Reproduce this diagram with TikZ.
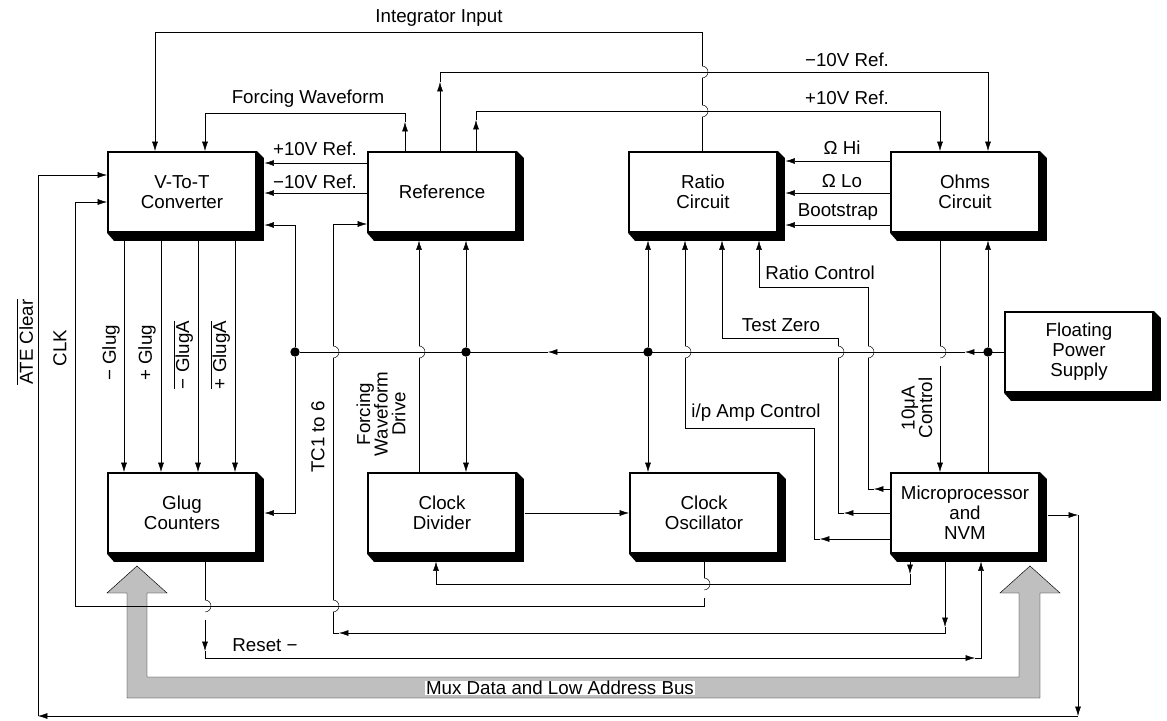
\documentclass[tikz,border=0pt]{standalone}
\usepackage{fontspec}
\setmainfont{Liberation Sans}
\usetikzlibrary{arrows.meta, calc}

\pgfdeclarelayer{shade}
\pgfsetlayers{shade,main}

% small jump of a vertical wire over a horizontal one at (x,y)
\newcommand{\hop}[2]{\draw (#1,#2-6) arc (-90:90:6);}

\begin{document}
\begin{tikzpicture}[x=0.03cm, y=-0.03cm, line width=1.3pt]
  \tikzstyle{blk}=[draw, line width=1.6pt, fill=white, minimum width=4.44cm,
    minimum height=2.4cm, align=center, font=\fontsize{16}{17}\selectfont]
  \tikzstyle{lbl}=[font=\fontsize{16}{17}\selectfont, inner sep=1pt]
  \tikzstyle{sig}=[-{Latex[length=8pt, width=5pt]}]
  \tikzstyle{inshd}=[shorten >=6.5pt]% tip stops on the shadow
  \tikzstyle{outshd}=[shorten <=6.5pt]
  \tikzstyle{dot}=[fill, circle, inner sep=0pt, minimum size=8pt]

  \useasboundingbox (0,0) rectangle (1167,720);

  %% Blocks
  \node[blk] (vtot)  at (182,192) {V-To-T\\Converter};
  \node[blk] (ref)   at (442,192) {Reference};
  \node[blk] (ratio) at (703,192) {Ratio\\Circuit};
  \node[blk] (ohms)  at (965,192) {Ohms\\Circuit};
  \node[blk] (fps)   at (1079,352) {Floating\\Power\\Supply};
  \node[blk] (glug)  at (182,513) {Glug\\Counters};
  \node[blk] (cdiv)  at (442,513) {Clock\\Divider};
  \node[blk] (cosc)  at (704,513) {Clock\\Oscillator};
  \node[blk] (mpu)   at (965,513) {Microprocessor\\and\\NVM};

  % shadows
  \begin{pgfonlayer}{shade}
    \foreach \n in {vtot,ref,ratio,ohms,fps,glug,cdiv,cosc,mpu}
      \fill (\n.south west) -- ++(7,8) -- ([shift={(7,8)}]\n.south east)
        -- ([shift={(7,7)}]\n.north east) -- (\n.north east) -- cycle;
  \end{pgfonlayer}

  %% Mux data / address bus
  \def\buspath{(127,593) -- (107,593) -- (137,566) -- (167,593) -- (147,593)
    -- (147,677) -- (1019,677) -- (1019,593) -- (1000,593) -- (1030,566)
    -- (1060,593) -- (1040,593) -- (1040,698) -- (127,698) -- cycle}
  \fill[black!25] \buspath;
  \node[lbl, fill=white, inner ysep=0pt] (busl) at (560,688)
    {Mux Data and Low Address Bus};
  \draw \buspath;

  %% Power bus
  \node[dot] (dA) at (295,352) {};
  \node[dot] (dB) at (466,352) {};
  \node[dot] (dC) at (648,352) {};
  \node[dot] (dD) at (988,352) {};
  \draw[sig] (fps.west) -- (965,352);
  \draw[sig] (965,352) -- (548,352);
  \draw (548,352) -- (dA);
  \draw[sig, inshd] (dA) |- (vtot.east |- 0,225);
  \draw[sig, inshd] (dA) |- (glug.east);
  \draw[sig, inshd] (dB) -- (dB |- ref.south);
  \draw[sig] (dB) -- (dB |- cdiv.north);
  \draw[sig, inshd] (dC) -- (dC |- ratio.south);
  \draw[sig] (dC) -- (dC |- cosc.north);
  \draw[sig, inshd] (dD) -- (dD |- ohms.south);
  \draw (dD) -- (dD |- mpu.north);

  %% Top lines
  % integrator input hops over both reference lines
  \draw[sig] (702,0 |- ratio.north) -- (702,117) (702,105) -- (702,78)
    (702,66) -- (702,32) -| (155,0 |- vtot.north);
  \hop{702}{111} \hop{702}{72}
  \draw[sig] (405,0 |- ref.north) -- (405,122);
  \draw[sig] (405,122) -- (405,113) -| (205,0 |- vtot.north);
  \draw[sig] (440,0 |- ref.north) -- (440,82);
  \draw[sig] (440,82) -- (440,72) -| (988,0 |- ohms.north);
  \draw[sig] (476,0 |- ref.north) -- (476,120);
  \draw[sig] (476,120) -- (476,111) -| (940,0 |- ohms.north);

  % side by side
  \draw[sig, inshd] (ref.west |- 0,163) -- (vtot.east |- 0,163);
  \draw[sig, inshd] (ref.west |- 0,193) -- (vtot.east |- 0,193);
  \foreach \yy in {161,193,225}
    \draw[sig, inshd] (ohms.west |- 0,\yy) -- (ratio.east |- 0,\yy);
  \draw[sig, outshd] (cdiv.east) -- (cosc.west);
  % glug lines
  \foreach \xx in {124,161,198,235}
    \draw[sig, outshd] (\xx,0 |- vtot.south) -- (\xx,0 |- glug.north);

  %% Reference inputs from below
  \draw[sig, inshd] (419,0 |- cdiv.north) -- (419,358) (419,346)
    -- (419,0 |- ref.south);
  \hop{419}{352}
  % TC1 to 6
  \draw[sig, outshd] (945,0 |- mpu.south) -- (945,627);
  \draw[sig] (945,627) -- (945,633) -- (339,633);
  \draw[sig] (339,633) -- (333,633) -- (333,612) (333,600) -- (333,358)
    (333,346) -- (333,224) -- (ref.west |- 0,224);
  \hop{333}{606} \hop{333}{352}

  %% Control lines back to the ratio circuit
  \draw[sig] (mpu.west |- 0,489) -- (874,489);
  \draw[sig, inshd] (874,489) -- (868,489) -- (868,358) (868,346)
    -- (868,287) -| (759,0 |- ratio.south);
  \draw[sig] (mpu.west |- 0,513) -- (844,513);
  \draw[sig, inshd] (844,513) -- (838,513) -- (838,358) (838,346)
    -- (838,338) -| (722,0 |- ratio.south);
  \draw[sig] (mpu.west |- 0,539) -- (820,539);
  \draw[sig, inshd] (820,539) -- (814,539) |- (685,428) -- (685,358)
    (685,346) -- (685,0 |- ratio.south);
  \hop{868}{352} \hop{838}{352} \hop{685}{352}
  % 10uA control
  \draw[sig, outshd] (940,0 |- ohms.south) -- (940,346) (940,358)
    -- (940,0 |- mpu.north);
  \hop{940}{352}

  %% Bottom lines
  \draw[sig, outshd] (910,0 |- mpu.south) -- (910,574);
  \draw[sig, inshd] (910,574) -- (910,584) -| (436,0 |- cdiv.south);
  % CLK
  \draw[sig, outshd] (704,0 |- cosc.south) -- (704,578) (704,590)
    -- (704,606) -| (75,202) -- (vtot.west |- 0,202);
  \hop{704}{584}
  % Reset
  \draw[sig, outshd] (205,0 |- glug.south) -- (205,600) (205,612)
    -- (205,651);
  \hop{205}{606}
  \draw[sig] (205,651) -- (205,658) -- (975,658);
  \draw[sig, inshd] (975,658) -- (981,658) -- (981,0 |- mpu.south);
  % ATE clear
  \draw[sig, outshd] (mpu.east |- 0,515) -- (1078,515);
  \draw[sig] (1078,515) -- (1078,716);
  \draw[sig] (1078,716) -- (38,716);
  \draw[sig] (38,716) |- (vtot.west |- 0,175);

  %% Labels
  \node[lbl] (tIntg) at (439,18) {Integrator Input};
  \node[lbl] (tForc) at (308,99) {Forcing Waveform};
  \node[lbl] (tRefA) at (847,60) {−10V Ref.};
  \node[lbl] (tRefB) at (847,98) {+10V Ref.};
  \node[lbl] (tRefC) at (315,149) {+10V Ref.};
  \node[lbl] (tRefD) at (315,182) {−10V Ref.};
  \node[lbl] (tHi) at (842,148) {Ω Hi};
  \node[lbl] (tLo) at (842,181) {Ω Lo};
  \node[lbl] (tBoot) at (838,212) {Bootstrap};
  \node[lbl] (tRcon) at (820,273) {Ratio Control};
  \node[lbl] (tTest) at (781,325) {Test Zero};
  \node[lbl] (tAmp) at (756,413) {i/p Amp Control};
  \node[lbl] (tRes) at (265,645) {Reset −};
  \begin{scope}[every node/.style={lbl, rotate=90, align=center,
      font=\fontsize{16}{15}\selectfont}]
    \node (tAte) at (25,342) {$\overline{\mbox{ATE Clear}}$};
    \node (tClk) at (60,348) {CLK};
    \node (tGa) at (111,353) {− Glug};
    \node (tGb) at (147,353) {+ Glug};
    \node (tGc) at (183,355) {$\overline{\mbox{− GlugA}}$};
    \node (tGd) at (220,355) {$\overline{\mbox{+ GlugA}}$};
    \node (tTc) at (318,437) {TC1 to 6};
    \node (tDrv) at (381,414) {Forcing\\Waveform\\Drive};
    \node (tUa) at (917,408) {10μA\\Control};
  \end{scope}
\end{tikzpicture}
\end{document}
